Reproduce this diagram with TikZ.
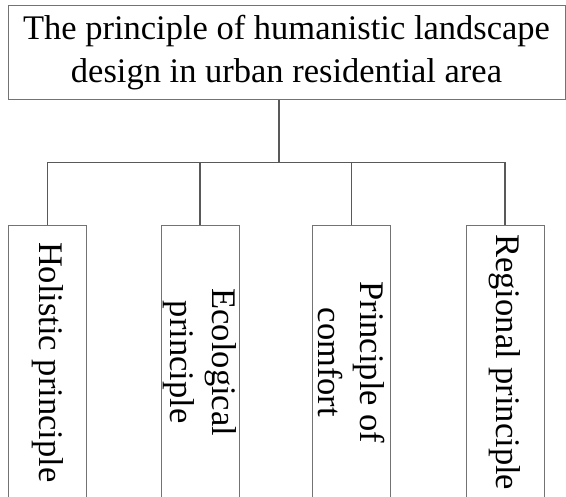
\documentclass[tikz,border=0pt]{standalone}
\usepackage{fontspec}
\setmainfont{Liberation Serif}
\begin{document}
\begin{tikzpicture}[x=1pt,y=-1pt,
  boxline/.style={draw=black!55,line width=1pt},
  conn/.style={draw=black!65,line width=1.2pt},
  bigtext/.style={font=\fontsize{34.5}{42}\selectfont,align=center,inner sep=0pt},
  topbox/.style={boxline,bigtext,minimum width=557,minimum height=93.5},
  subbox/.style={boxline,bigtext,rotate=-90,minimum width=274,minimum height=78}
]
\useasboundingbox (0,0) rectangle (566,497);
\node[topbox] (top) at (286.5,52.75) {\raisebox{-1pt}{\begin{tabular}{@{}c@{}}The principle of humanistic landscape\\[0.8pt] design in urban residential area\end{tabular}}};
\node[subbox] (b1) at (47.7,362.3) {Holistic principle};
\node[subbox] (b2) at (200,362.3) {Ecological\\principle};
\node[subbox] (b3) at (351.7,362.3) {Principle of\\comfort};
\node[subbox] (b4) at (505,362.3) {Regional principle};
\coordinate (j) at (279,162.3);
\draw[conn] (j |- top.south) -- (j);
\draw[conn] (j) -| (b1.west);
\draw[conn] (j) -| (b2.west);
\draw[conn] (j) -| (b3.west);
\draw[conn] (j) -| (b4.west);
\end{tikzpicture}
\end{document}
